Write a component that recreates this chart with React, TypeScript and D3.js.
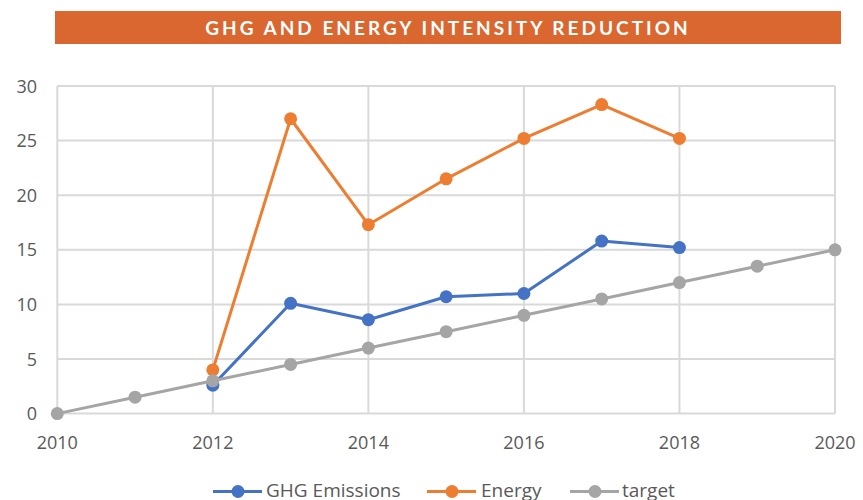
import React from "react";
import * as d3 from "d3";

const years = [2010, 2011, 2012, 2013, 2014, 2015, 2016, 2017, 2018, 2019, 2020];
const ghgYears = [2012, 2013, 2014, 2015, 2016, 2017, 2018];
const ghgValues = [2.6, 10.1, 8.6, 10.7, 11.0, 15.8, 15.2];
const energyValues = [4.0, 27.0, 17.3, 21.5, 25.2, 28.3, 25.2];
const targetValues = [0, 1.5, 3, 4.5, 6, 7.5, 9, 10.5, 12, 13.5, 15];
const xTicks = [2010, 2012, 2014, 2016, 2018, 2020];
const yTicks = [0, 5, 10, 15, 20, 25, 30];
const title = "GHG AND ENERGY INTENSITY REDUCTION";
const seriesNames = ["GHG Emissions", "Energy", "target"];

const W = 863, H = 500;
const colors = ["#4472C4", "#ED7D31", "#A5A5A5"];
const font = "'Open Sans', sans-serif";

export default function App() {
  const x = d3.scaleLinear().domain([2010, 2020]).range([57.3, 835]);
  const y = d3.scaleLinear().domain([0, 30]).range([413.6, 86]);
  const line = d3.line<[number, number]>().x(d => x(d[0])).y(d => y(d[1]));

  const series: [number, number][][] = [
    ghgYears.map((yr, i) => [yr, ghgValues[i]]),
    ghgYears.map((yr, i) => [yr, energyValues[i]]),
    years.map((yr, i) => [yr, targetValues[i]]),
  ];

  const legendItems = [
    { x0: 213, text: 266 },
    { x0: 427, text: 481 },
    { x0: 570, text: 622 },
  ];

  return (
    <svg width={W} height={H} style={{ position: "absolute", left: 0, top: 0, background: "#fff" }}>
      <rect x={0} y={0} width={W} height={H} fill="#fff" />
      <rect x={55} y={11} width={786} height={33} fill="#D9672F" />
      <text x={448} y={34.5} textAnchor="middle" fill="#fff" fontFamily="Lato, sans-serif"
        fontWeight={700} fontSize={19} letterSpacing={3}>{title}</text>

      {yTicks.map(t => (
        <line key={"h" + t} x1={x(2010)} x2={x(2020)} y1={y(t)} y2={y(t)} stroke="#D9D9D9" strokeWidth={2} />
      ))}
      {xTicks.map(t => (
        <line key={"v" + t} x1={x(t)} x2={x(t)} y1={y(0)} y2={y(30)} stroke="#D9D9D9" strokeWidth={2} />
      ))}

      {yTicks.map(t => (
        <text key={"yl" + t} x={37} y={y(t) + 6.5} textAnchor="end" fill="#595959"
          fontFamily={font} fontSize={18}>{t}</text>
      ))}
      {xTicks.map(t => (
        <text key={"xl" + t} x={x(t)} y={449} textAnchor="middle" fill="#595959"
          fontFamily={font} fontSize={18}>{t}</text>
      ))}

      {series.map((s, i) => (
        <g key={"s" + i}>
          <path d={line(s) || ""} fill="none" stroke={colors[i]} strokeWidth={3} strokeLinejoin="round" />
          {s.map((d, j) => (
            <circle key={j} cx={x(d[0])} cy={y(d[1])} r={6.5} fill={colors[i]} />
          ))}
        </g>
      ))}

      {legendItems.map((it, i) => (
        <g key={"lg" + i}>
          <line x1={it.x0} x2={it.x0 + 49} y1={491.5} y2={491.5} stroke={colors[i]} strokeWidth={3} />
          <circle cx={it.x0 + 25} cy={491.5} r={6.5} fill={colors[i]} />
          <text x={it.text} y={497} fill="#595959" fontFamily={font} fontSize={19}>{seriesNames[i]}</text>
        </g>
      ))}
    </svg>
  );
}
